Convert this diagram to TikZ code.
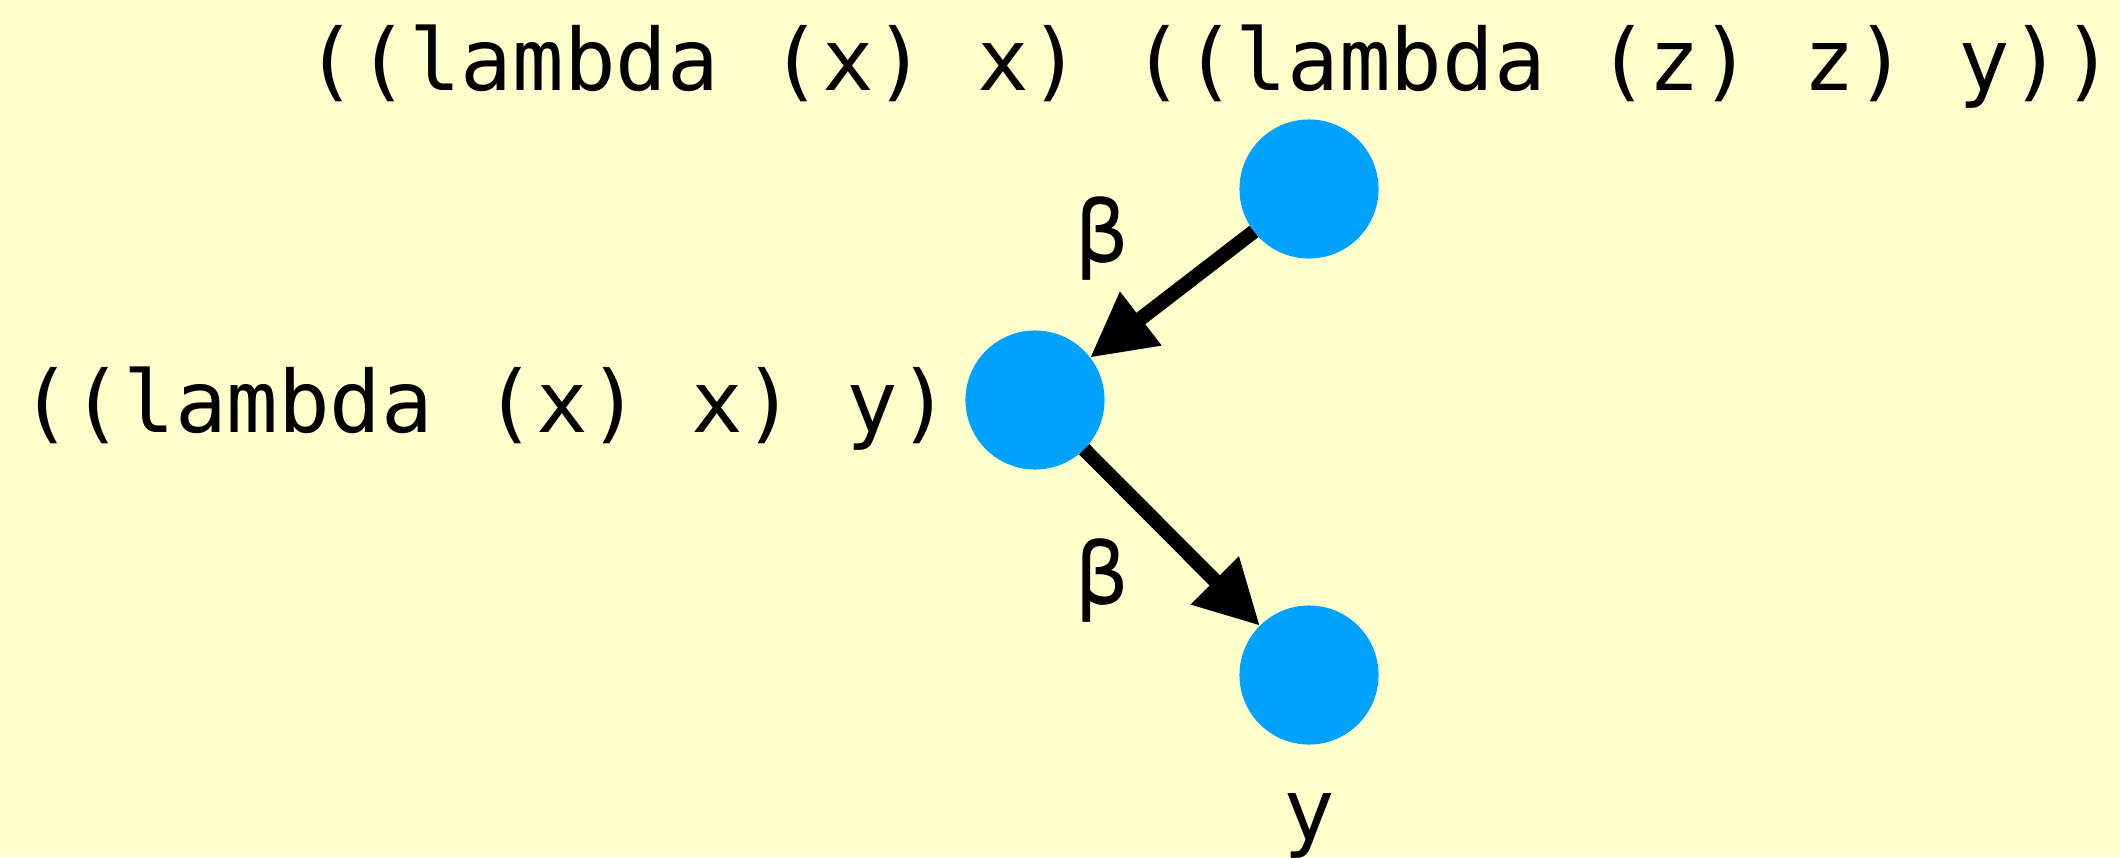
\documentclass[tikz,border=0pt]{standalone}
\usepackage{fontspec}
\setmonofont{DejaVu Sans Mono}
\usepackage{tikz}
\usetikzlibrary{arrows.meta, positioning}
\definecolor{cream}{HTML}{FFFFCC}
\definecolor{azure}{HTML}{00A2FF}

\begin{document}
\begin{tikzpicture}[x=0.01cm, y=-0.01cm,
    redex/.style={circle, fill=azure, minimum size=1.39cm, inner sep=0pt, outer sep=0pt},
    term/.style={font=\ttfamily\fontsize{24.4}{29}\selectfont, inner sep=0pt, anchor=base},
    steplabel/.style={font=\ttfamily\fontsize{24.4}{29}\selectfont, inner sep=0pt},
    arr/.style={-{Triangle[length=6.4mm, width=6.4mm]}, line width=4.1pt, color=black},
  ]
  % Background
  \fill[cream] (0,0) rectangle (2120,857);

  % Reduction graph
  \node[redex] (whole) at (1309,189) {};
  \node[redex] (inner) at (1035,400) {};
  \node[redex] (result) at (1309,675) {};

  % Terms
  \node[term] (wholeterm) at (1210,90) {((lambda (x) x) ((lambda (z) z) y))};
  \node[term] (innerterm) at (485,432) {((lambda (x) x) y)};
  \node[term] (resultterm) at (1309,840) {y};

  % Reduction steps
  \draw[arr] (whole) -- (inner);
  \draw[arr] (inner) -- (result);
  \node[steplabel] (stepone) at (1102,238) {β};
  \node[steplabel] (steptwo) at (1102,580) {β};
\end{tikzpicture}
\end{document}
